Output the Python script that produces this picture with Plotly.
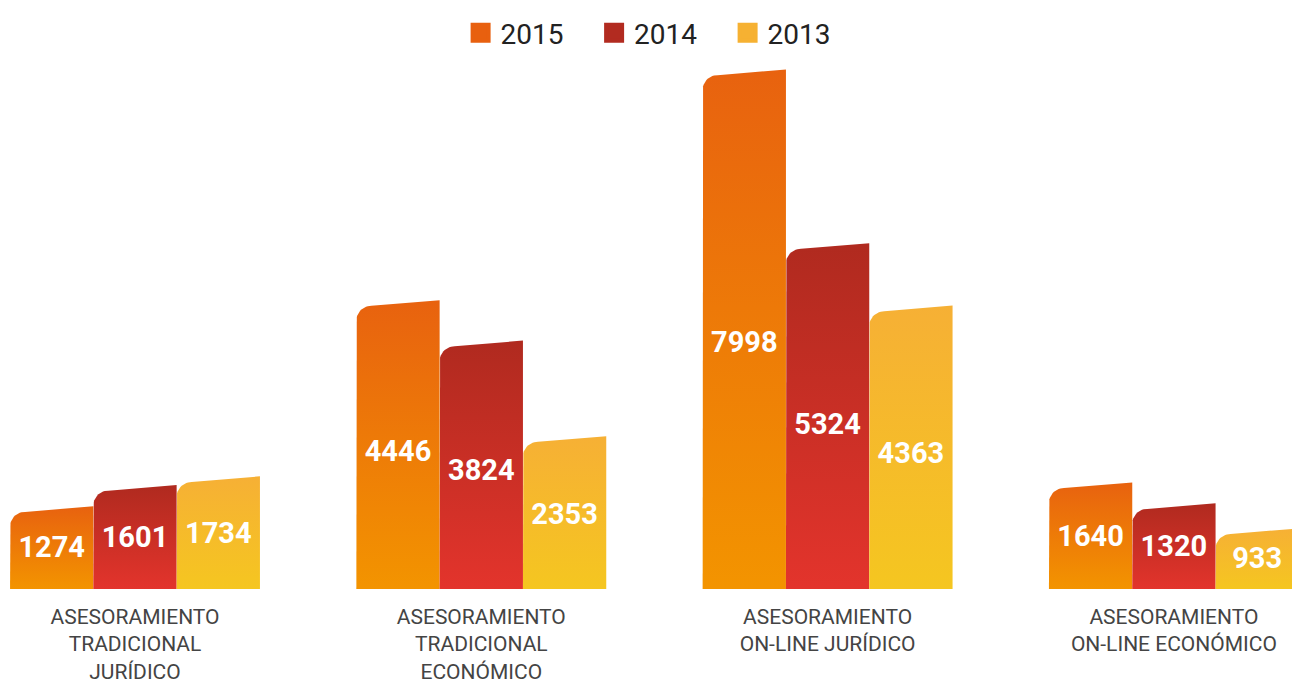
import numpy as np
import plotly.graph_objects as go

# data
categories = ['ASESORAMIENTO<br>TRADICIONAL<br>JURÍDICO',
              'ASESORAMIENTO<br>TRADICIONAL<br>ECONÓMICO',
              'ASESORAMIENTO<br>ON-LINE JURÍDICO',
              'ASESORAMIENTO<br>ON-LINE ECONÓMICO']
years = ['2015', '2014', '2013']
v2015 = [1274, 4446, 7998, 1640]
v2014 = [1601, 3824, 5324, 1320]
v2013 = [1734, 2353, 4363, 933]

# colours: legend, top of bar, bottom of bar
col = {'2015': ('#E8600F', '#E8620F', '#F39400'),
       '2014': ('#B22B20', '#B02A1F', '#E3342C'),
       '2013': ('#F6B132', '#F6B035', '#F5C620')}

# page body has an 8px margin, so the figure is drawn 8px smaller
OFF = 8
W, H = 1300 - OFF, 687 - OFF
ML, MR, MT, MB = 0, 0, 20 - OFF, 98
PX_X = 346.3                 # px per category
X_LO = (OFF - 135) / PX_X
X_HI = X_LO + (W - ML - MR) / PX_X
PX_Y = 0.066                 # px per unit
Y_HI = (H - MT - MB) / PX_Y

BAR_W = 83.3 / PX_X
SLANT = 7 / PX_Y
RX, RY = 15 / PX_X, 15 / PX_Y


def bar_shape(xc, v):
    # slanted top with a rounded top-left corner
    x0, x1 = xc - BAR_W / 2, xc + BAR_W / 2
    top = lambda x: v - SLANT * (x1 - x) / BAR_W
    cx = x0 + RX
    cy = top(cx) - RY
    th = np.linspace(np.pi, np.pi / 2, 14)
    xs = [x0] + list(cx + RX * np.cos(th)) + [x1, x1, x0]
    ys = [0] + list(cy + RY * np.sin(th)) + [v, 0, 0]
    return xs, ys


fig = go.Figure()
series = {'2015': v2015, '2014': v2014, '2013': v2013}
for k, yr in enumerate(years):
    leg, ctop, cbot = col[yr]
    off = (k - 1) * BAR_W
    for i, v in enumerate(series[yr]):
        xs, ys = bar_shape(i + off, v)
        fig.add_trace(go.Scatter(
            x=xs, y=ys, mode='lines', fill='toself',
            line=dict(width=0, color=cbot),
            fillgradient=dict(type='vertical', start=0, stop=v,
                              colorscale=[[0, cbot], [1, ctop]]),
            showlegend=False, hoverinfo='skip'))
    fig.add_trace(go.Scatter(
        x=[i + off for i in range(len(categories))],
        y=[v * 0.47 for v in series[yr]],
        mode='text', text=[str(v) for v in series[yr]],
        textfont=dict(family='Roboto', size=29, color='white', weight='bold'),
        showlegend=False, hoverinfo='skip'))
    fig.add_trace(go.Scatter(
        x=[None], y=[None], mode='markers', name=yr,
        marker=dict(symbol='square', size=16, color=leg,
                    line=dict(width=4, color=leg))))

fig.update_layout(
    width=W, height=H,
    margin=dict(l=ML, r=MR, t=MT, b=MB),
    paper_bgcolor='white', plot_bgcolor='white',
    font=dict(family='Roboto', color='#444444'),
    showlegend=True,
    legend=dict(orientation='h', x=0.5055, xanchor='center',
                y=(H - MB - (24 - OFF)) / (H - MT - MB), yanchor='middle',
                font=dict(family='Roboto', size=28, color='#222222'),
                entrywidth=88.5, bgcolor='rgba(0,0,0,0)'),
    xaxis=dict(range=[X_LO, X_HI], tickmode='array',
               tickvals=list(range(len(categories))), ticktext=categories,
               tickfont=dict(family='Roboto', size=21, color='#444444'),
               showgrid=False, zeroline=False, showline=False,
               ticklabelstandoff=13, automargin=False, fixedrange=True),
    yaxis=dict(range=[0, Y_HI], visible=False, showgrid=False,
               zeroline=False, fixedrange=True),
)

fig.write_html("out.html")
